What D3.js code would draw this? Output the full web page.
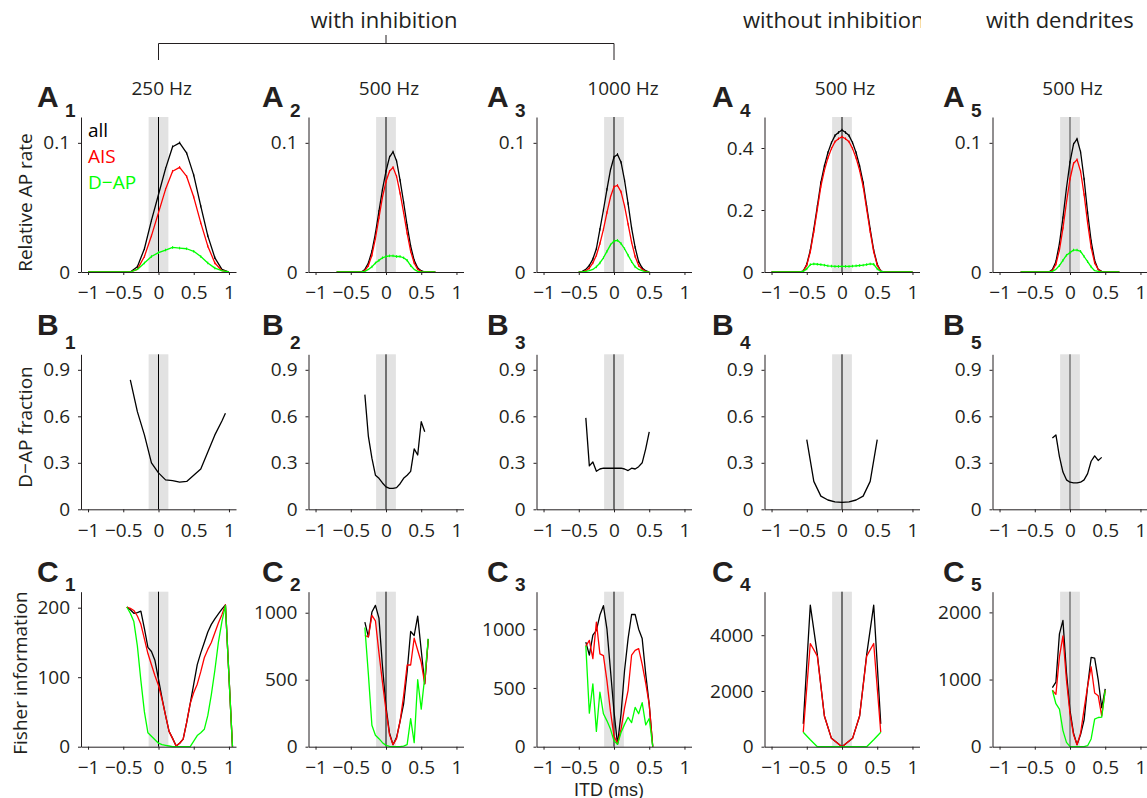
<!DOCTYPE html>
<html>
<head>
<meta charset="utf-8">
<script src="https://cdnjs.cloudflare.com/ajax/libs/d3/7.8.5/d3.min.js"></script>
<style>
  body { margin: 0; background: #fff; }
  svg { display: block; font-family: 'Open Sans', sans-serif; }
</style>
</head>
<body>
<div id="chart"></div>
<script>
// ---- shared axis values ----
const itdTicks = [-1, -0.5, 0, 0.5, 1];
const itdTickLabels = ['\u22121', '\u22120.5', '0', '0.5', '1'];
const rateTicks = [0, 0.1];
const rateTicksNoInh = [0, 0.2, 0.4];
const fracTicks = [0, 0.3, 0.6, 0.9];
const fisherTicks = [[0, 100, 200], [0, 500, 1000], [0, 500, 1000], [0, 2000, 4000], [0, 1000, 2000]];
const columnTitles = ['250 Hz', '500 Hz', '1000 Hz', '500 Hz', '500 Hz'];
const seriesNames = ['all', 'AIS', 'D\u2212AP'];

// ---- row A: relative AP rate ----
const a1Itd = [-1, -0.9, -0.8, -0.7, -0.6, -0.5, -0.4, -0.3, -0.2, -0.1, 0, 0.1, 0.2, 0.3, 0.4, 0.5, 0.6, 0.7, 0.8, 0.9, 1];
const a1All = [0, 0, 0, 0, 0, 0, 0, 0.004, 0.018, 0.040, 0.060, 0.080, 0.097, 0.100, 0.092, 0.075, 0.051, 0.028, 0.011, 0.002, 0];
const a1AIS = [0, 0, 0, 0, 0, 0, 0, 0.002, 0.012, 0.028, 0.046, 0.064, 0.078, 0.081, 0.074, 0.058, 0.038, 0.020, 0.007, 0.001, 0];
const a1DAP = [0, 0, 0, 0, 0, 0, 0, 0.002, 0.007, 0.012, 0.015, 0.017, 0.019, 0.0185, 0.018, 0.016, 0.012, 0.007, 0.003, 0.001, 0];

const a2Itd = [-0.7, -0.65, -0.6, -0.55, -0.5, -0.45, -0.4, -0.35, -0.3, -0.25, -0.2, -0.15, -0.1, -0.05, 0, 0.05, 0.1, 0.15, 0.2, 0.25, 0.3, 0.35, 0.4, 0.45, 0.5, 0.55, 0.6, 0.65, 0.7];
const a2All = [0, 0, 0, 0, 0, 0, 0, 0, 0.002, 0.007, 0.016, 0.030, 0.047, 0.064, 0.078, 0.089, 0.093, 0.086, 0.071, 0.054, 0.036, 0.020, 0.009, 0.003, 0.001, 0, 0, 0, 0];
const a2AIS = [0, 0, 0, 0, 0, 0, 0, 0, 0.001, 0.005, 0.013, 0.026, 0.042, 0.058, 0.070, 0.078, 0.081, 0.074, 0.061, 0.046, 0.030, 0.016, 0.007, 0.002, 0.0005, 0, 0, 0, 0];
const a2DAP = [0, 0, 0, 0, 0, 0, 0, 0, 0.0005, 0.002, 0.004, 0.007, 0.009, 0.011, 0.012, 0.0125, 0.0125, 0.012, 0.012, 0.011, 0.009, 0.005, 0.002, 0.0005, 0, 0, 0, 0, 0];

const a3Itd = [-0.5, -0.45, -0.4, -0.35, -0.3, -0.25, -0.2, -0.15, -0.1, -0.05, 0, 0.05, 0.1, 0.15, 0.2, 0.25, 0.3, 0.35, 0.4, 0.45, 0.5];
const a3All = [0, 0.0005, 0.002, 0.005, 0.010, 0.018, 0.033, 0.048, 0.064, 0.079, 0.089, 0.091, 0.085, 0.071, 0.053, 0.034, 0.019, 0.008, 0.003, 0.001, 0];
const a3AIS = [0, 0, 0.001, 0.003, 0.007, 0.013, 0.022, 0.033, 0.046, 0.058, 0.066, 0.067, 0.062, 0.051, 0.037, 0.023, 0.012, 0.005, 0.002, 0.0005, 0];
const a3DAP = [0, 0, 0.0005, 0.001, 0.002, 0.004, 0.007, 0.011, 0.016, 0.021, 0.024, 0.0245, 0.022, 0.018, 0.013, 0.008, 0.004, 0.002, 0.001, 0, 0];

const a4Itd = [-1, -0.9, -0.8, -0.7, -0.6, -0.55, -0.5, -0.45, -0.4, -0.35, -0.3, -0.25, -0.2, -0.15, -0.1, -0.05, 0, 0.05, 0.1, 0.15, 0.2, 0.25, 0.3, 0.35, 0.4, 0.45, 0.5, 0.55, 0.6, 0.7, 0.8, 0.9, 1];
const a4All = [0, 0, 0, 0, 0, 0.003, 0.025, 0.07, 0.138, 0.212, 0.288, 0.342, 0.385, 0.417, 0.44, 0.45, 0.458, 0.45, 0.44, 0.417, 0.385, 0.342, 0.288, 0.212, 0.138, 0.07, 0.025, 0.003, 0, 0, 0, 0, 0];
const a4AIS = [0, 0, 0, 0, 0, 0.002, 0.022, 0.065, 0.13, 0.203, 0.276, 0.328, 0.368, 0.398, 0.42, 0.43, 0.436, 0.43, 0.42, 0.398, 0.368, 0.328, 0.276, 0.203, 0.13, 0.065, 0.022, 0.002, 0, 0, 0, 0, 0];
const a4DAP = [0, 0, 0, 0, 0, 0.002, 0.01, 0.024, 0.026, 0.025, 0.024, 0.022, 0.02, 0.019, 0.018, 0.018, 0.018, 0.018, 0.018, 0.019, 0.02, 0.021, 0.022, 0.024, 0.026, 0.025, 0.01, 0.002, 0, 0, 0, 0, 0];

const a5Itd = [-0.7, -0.65, -0.6, -0.55, -0.5, -0.45, -0.4, -0.35, -0.3, -0.25, -0.2, -0.15, -0.1, -0.05, 0, 0.05, 0.1, 0.15, 0.2, 0.25, 0.3, 0.35, 0.4, 0.45, 0.5, 0.55, 0.6, 0.65, 0.7];
const a5All = [0, 0, 0, 0, 0, 0, 0, 0, 0, 0.002, 0.008, 0.022, 0.042, 0.065, 0.085, 0.099, 0.103, 0.093, 0.072, 0.046, 0.024, 0.009, 0.002, 0.0005, 0, 0, 0, 0, 0];
const a5AIS = [0, 0, 0, 0, 0, 0, 0, 0, 0, 0.001, 0.006, 0.017, 0.034, 0.054, 0.072, 0.084, 0.087, 0.078, 0.060, 0.038, 0.019, 0.007, 0.002, 0, 0, 0, 0, 0, 0];
const a5DAP = [0, 0, 0, 0, 0, 0, 0, 0, 0, 0.0005, 0.002, 0.005, 0.009, 0.013, 0.015, 0.017, 0.017, 0.016, 0.012, 0.008, 0.004, 0.001, 0.0005, 0, 0, 0, 0, 0, 0];

// ---- row B: D-AP fraction ----
const b1Itd = [-0.4, -0.3, -0.2, -0.1, 0, 0.1, 0.2, 0.3, 0.4, 0.5, 0.6, 0.7, 0.8, 0.9, 0.95];
const b1Frac = [0.835, 0.63, 0.48, 0.30, 0.235, 0.19, 0.185, 0.175, 0.18, 0.22, 0.26, 0.37, 0.48, 0.57, 0.62];
const b2Itd = [-0.3, -0.25, -0.2, -0.15, -0.1, -0.05, 0, 0.05, 0.1, 0.15, 0.2, 0.25, 0.3, 0.35, 0.4, 0.45, 0.5, 0.55];
const b2Frac = [0.74, 0.47, 0.33, 0.22, 0.2, 0.17, 0.145, 0.135, 0.135, 0.14, 0.165, 0.2, 0.22, 0.245, 0.39, 0.35, 0.565, 0.5];
const b3Itd = [-0.4, -0.35, -0.3, -0.25, -0.2, -0.15, -0.1, -0.05, 0, 0.05, 0.1, 0.15, 0.2, 0.25, 0.3, 0.35, 0.4, 0.45, 0.5];
const b3Frac = [0.59, 0.28, 0.305, 0.245, 0.26, 0.265, 0.265, 0.265, 0.265, 0.265, 0.265, 0.26, 0.25, 0.265, 0.26, 0.275, 0.30, 0.39, 0.5];
const b4Itd = [-0.5, -0.4, -0.3, -0.2, -0.1, 0, 0.1, 0.2, 0.3, 0.4, 0.5];
const b4Frac = [0.45, 0.18, 0.085, 0.06, 0.048, 0.045, 0.048, 0.06, 0.085, 0.18, 0.45];
const b5Itd = [-0.25, -0.2, -0.15, -0.1, -0.05, 0, 0.05, 0.1, 0.15, 0.2, 0.25, 0.3, 0.35, 0.4, 0.45];
const b5Frac = [0.46, 0.48, 0.34, 0.24, 0.19, 0.175, 0.17, 0.17, 0.175, 0.19, 0.23, 0.31, 0.345, 0.315, 0.335];

// ---- row C: Fisher information ----
const c1Itd = [-0.45, -0.4, -0.35, -0.3, -0.25, -0.2, -0.15, -0.1, -0.05, 0, 0.05, 0.1, 0.15, 0.2, 0.25, 0.3, 0.35, 0.4, 0.45, 0.5, 0.55, 0.6, 0.65, 0.7, 0.75, 0.8, 0.85, 0.9, 0.95, 1.05];
const c1All = [201, 197, 192, 193, 195, 170, 143, 137, 124, 97, 70, 45, 22, 12, 1, 5, 11, 35, 62, 90, 118, 135, 150, 165, 176, 184, 191, 198, 204, 0];
const c1AIS = [201, 199, 196, 188, 176, 155, 134, 118, 102, 88, 68, 45, 22, 12, 1, 5, 11, 35, 62, 78, 90, 108, 128, 140, 150, 164, 178, 190, 204, 0];
const c1DAP = [201, 192, 180, 145, 95, 50, 20, 15, 10, 5, 3, 2, 1, 0, 0, 0, 0, 0, 0, 8, 16, 20, 25, 45, 75, 110, 150, 180, 203, 0];

const c2Itd = [-0.3, -0.25, -0.2, -0.15, -0.1, -0.05, 0, 0.05, 0.1, 0.15, 0.2, 0.25, 0.3, 0.35, 0.4, 0.45, 0.5, 0.55, 0.6];
const c2All = [930, 820, 1005, 1055, 960, 600, 300, 100, 15, 70, 190, 320, 560, 860, 830, 975, 720, 470, 805];
const c2AIS = [830, 820, 980, 940, 700, 480, 270, 90, 15, 60, 190, 380, 610, 610, 810, 720, 630, 470, 800];
const c2DAP = [890, 540, 160, 85, 60, 30, 10, 2, 0, 0, 0, 5, 15, 210, 30, 500, 280, 520, 805];

const c3Itd = [-0.4, -0.35, -0.3, -0.25, -0.2, -0.15, -0.1, -0.05, 0, 0.05, 0.1, 0.15, 0.2, 0.25, 0.3, 0.35, 0.4, 0.45, 0.5, 0.55];
const c3All = [890, 780, 950, 990, 1120, 1200, 1000, 650, 300, 20, 280, 650, 920, 1125, 1125, 1000, 920, 620, 360, 0];
const c3AIS = [855, 905, 750, 1060, 790, 775, 560, 300, 90, 25, 150, 330, 480, 780, 820, 835, 700, 540, 360, 0];
const c3DAP = [860, 285, 535, 130, 465, 280, 220, 150, 50, 20, 120, 190, 250, 205, 335, 280, 375, 185, 240, 0];

const c4Itd = [-0.55, -0.45, -0.35, -0.25, -0.15, 0, 0.15, 0.25, 0.35, 0.45, 0.55];
const c4All = [820, 5080, 3300, 1100, 300, 0, 300, 1100, 3300, 5080, 820];
const c4AIS = [520, 3700, 3250, 1100, 300, 0, 300, 1100, 3250, 3700, 520];
const c4DAP = [520, 250, 0, 0, 0, 0, 0, 0, 0, 250, 520];

const c5Itd = [-0.25, -0.2, -0.15, -0.1, -0.05, 0, 0.05, 0.1, 0.15, 0.2, 0.25, 0.3, 0.35, 0.4, 0.45, 0.5];
const c5All = [880, 960, 1680, 1880, 1100, 540, 200, 30, 180, 400, 900, 1330, 1320, 1000, 580, 860];
const c5AIS = [840, 780, 1340, 1650, 990, 490, 180, 30, 200, 560, 900, 1190, 800, 760, 460, 840];
const c5DAP = [840, 640, 560, 240, 65, 0, 0, 0, 0, 0, 15, 115, 410, 435, 440, 840];

// ---- layout ----
const W = 1147, H = 798;
const colLeft = [81, 308.5, 536.5, 764.5, 992.5];
const rowTop = [117, 354.3, 591.7];
const plotW = 155, plotH = 155;
const xDomain = [-1.1, 1.1];
const bandHalf = 0.14;
const rateMax = [0.12, 0.12, 0.12, 0.5, 0.12];
const fisherMax = [223, 1157, 1319, 5560, 2308];
const letterX = [37, 262, 487, 712, 943];
const letterDy = [-10, -19, -10];
const subDy = [0, -5, -1];
const rowLetters = ['A', 'B', 'C'];

const ink = '#231f20';
const colAll = '#000000', colAIS = '#ff0000', colDAP = '#00ff00';
const fontMain = "'Open Sans', sans-serif";
const fontBold = "'Liberation Sans', Arial, sans-serif";

const rateSets = [
  [a1Itd, a1All, a1AIS, a1DAP], [a2Itd, a2All, a2AIS, a2DAP], [a3Itd, a3All, a3AIS, a3DAP],
  [a4Itd, a4All, a4AIS, a4DAP], [a5Itd, a5All, a5AIS, a5DAP]
];
const fracSets = [[b1Itd, b1Frac], [b2Itd, b2Frac], [b3Itd, b3Frac], [b4Itd, b4Frac], [b5Itd, b5Frac]];
const fisherSets = [
  [c1Itd, c1All, c1AIS, c1DAP], [c2Itd, c2All, c2AIS, c2DAP], [c3Itd, c3All, c3AIS, c3DAP],
  [c4Itd, c4All, c4AIS, c4DAP], [c5Itd, c5All, c5AIS, c5DAP]
];

// build panel list
const panels = [];
rateSets.forEach((s, i) => panels.push({
  row: 0, col: i, yMax: rateMax[i], yTicks: i === 3 ? rateTicksNoInh : rateTicks, errTicks: true,
  series: [{ x: s[0], y: s[1], c: colAll }, { x: s[0], y: s[2], c: colAIS }, { x: s[0], y: s[3], c: colDAP }]
}));
fracSets.forEach((s, i) => panels.push({
  row: 1, col: i, yMax: 1, yTicks: fracTicks, errTicks: false,
  series: [{ x: s[0], y: s[1], c: colAll }]
}));
fisherSets.forEach((s, i) => panels.push({
  row: 2, col: i, yMax: fisherMax[i], yTicks: fisherTicks[i], errTicks: false,
  series: [{ x: s[0], y: s[1], c: colAll }, { x: s[0], y: s[2], c: colAIS }, { x: s[0], y: s[3], c: colDAP }]
}));

const svg = d3.select('#chart').append('svg')
  .attr('width', W)
  .attr('height', H);

svg.append('rect').attr('width', W).attr('height', H).attr('fill', '#fff');

const xScales = [];

panels.forEach(p => {
  const g = svg.append('g')
    .attr('transform', `translate(${colLeft[p.col]},${rowTop[p.row]})`);

  const x = d3.scaleLinear().domain(xDomain).range([0, plotW]);
  const y = d3.scaleLinear().domain([0, p.yMax]).range([plotH, 0]);
  if (p.row === 0) xScales[p.col] = x;

  // grey band around zero ITD
  g.append('rect')
    .attr('x', x(-bandHalf))
    .attr('y', 0)
    .attr('width', x(bandHalf) - x(-bandHalf))
    .attr('height', plotH)
    .attr('fill', '#e2e2e2');

  // zero line
  g.append('line')
    .attr('x1', x(0)).attr('x2', x(0))
    .attr('y1', 0).attr('y2', plotH)
    .attr('stroke', p.col === 4 ? '#444' : '#000')
    .attr('stroke-width', 1);

  const line = d3.line().x(d => x(d[0])).y(d => y(d[1]));

  p.series.forEach(s => {
    const pts = s.x.map((v, i) => [v, s.y[i]]);
    g.append('path')
      .datum(pts)
      .attr('d', line)
      .attr('fill', 'none')
      .attr('stroke', s.c)
      .attr('stroke-width', 1.3)
      .attr('stroke-linejoin', 'round');

    // tiny error-bar ticks on the rate curves
    if (p.errTicks) {
      g.selectAll(null)
        .data(pts.filter(d => d[1] > 0.002))
        .enter()
        .append('line')
        .attr('x1', d => x(d[0])).attr('x2', d => x(d[0]))
        .attr('y1', d => y(d[1]) - 1.3).attr('y2', d => y(d[1]) + 1.3)
        .attr('stroke', s.c)
        .attr('stroke-width', 1);
    }
  });

  // axes
  const xAxis = g.append('g')
    .attr('transform', `translate(0,${plotH})`)
    .call(d3.axisBottom(x)
      .tickValues(itdTicks)
      .tickFormat((d, i) => itdTickLabels[i])
      .tickSizeInner(3)
      .tickSizeOuter(0)
      .tickPadding(11));

  const yAxis = g.append('g')
    .call(d3.axisLeft(y)
      .tickValues(p.yTicks)
      .tickFormat(d => String(d))
      .tickSizeInner(3)
      .tickSizeOuter(0)
      .tickPadding(8));

  [xAxis, yAxis].forEach(a => {
    a.selectAll('path, line').attr('stroke', ink).attr('stroke-width', 1);
    a.selectAll('text')
      .attr('fill', ink)
      .style('font-size', '19px')
      .style('font-family', fontMain);
  });

  // panel label with subscript
  const top = rowTop[p.row];
  svg.append('text')
    .attr('x', letterX[p.col])
    .attr('y', top + letterDy[p.row])
    .style('font-family', fontBold)
    .style('font-weight', 'bold')
    .style('font-size', '30px')
    .attr('fill', ink)
    .text(rowLetters[p.row]);

  svg.append('text')
    .attr('x', letterX[p.col] + 28)
    .attr('y', top + subDy[p.row])
    .style('font-family', fontBold)
    .style('font-weight', 'bold')
    .style('font-size', '19px')
    .attr('fill', ink)
    .text(p.col + 1);
});

// column titles (frequencies)
const titleCx = [161.7, 389, 623, 845, 1072.5];
columnTitles.forEach((t, i) => {
  svg.append('text')
    .attr('x', titleCx[i])
    .attr('y', 95)
    .attr('text-anchor', 'middle')
    .style('font-family', fontMain)
    .style('font-size', '19px')
    .attr('fill', ink)
    .text(t);
});

// group headers
const zeroX = i => colLeft[i] + xScales[i](0);

svg.append('text')
  .attr('x', zeroX(1) - 2)
  .attr('y', 28)
  .attr('text-anchor', 'middle')
  .style('font-family', fontMain)
  .style('font-size', '22px')
  .attr('fill', ink)
  .text('with inhibition');

svg.append('path')
  .attr('d', `M${zeroX(0)},60 V43.5 H${zeroX(2)} V60 M${zeroX(1)},43.5 V35`)
  .attr('fill', 'none')
  .attr('stroke', ink)
  .attr('stroke-width', 1);

svg.append('clipPath').attr('id', 'hdr-clip')
  .append('rect').attr('x', 0).attr('y', 0).attr('width', 921).attr('height', 60);

svg.append('text')
  .attr('x', 743)
  .attr('y', 28)
  .attr('clip-path', 'url(#hdr-clip)')
  .style('font-family', fontMain)
  .style('font-size', '22px')
  .attr('fill', ink)
  .text('without inhibition');

svg.append('text')
  .attr('x', 986)
  .attr('y', 28)
  .style('font-family', fontMain)
  .style('font-size', '22px')
  .attr('fill', ink)
  .text('with dendrites');

// legend in A1
const legendColors = [colAll, colAIS, colDAP];
const legendY = [136.7, 162.7, 189.3];
seriesNames.forEach((n, i) => {
  svg.append('text')
    .attr('x', 88)
    .attr('y', legendY[i])
    .style('font-family', fontMain)
    .style('font-size', '19px')
    .attr('fill', legendColors[i])
    .text(n);
});

// y-axis titles
const yTitles = ['Relative AP rate', 'D\u2212AP fraction', 'Fisher information'];
const yTitleX = [32, 32, 27];
const yTitleCy = [202.5, 427, 673];
yTitles.forEach((t, i) => {
  svg.append('text')
    .attr('transform', `translate(${yTitleX[i]},${yTitleCy[i]}) rotate(-90)`)
    .attr('text-anchor', 'middle')
    .style('font-family', fontMain)
    .style('font-size', '19px')
    .attr('fill', ink)
    .text(t);
});

// x-axis title under the middle column
svg.append('text')
  .attr('x', 609)
  .attr('y', 795.5)
  .attr('text-anchor', 'middle')
  .style('font-family', fontBold)
  .style('font-size', '18px')
  .attr('fill', ink)
  .text('ITD (ms)');
</script>
</body>
</html>
